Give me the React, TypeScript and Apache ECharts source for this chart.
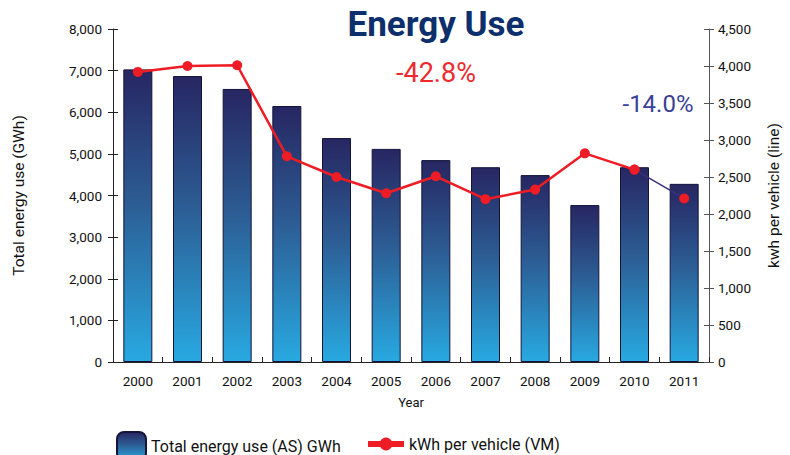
import React, { useEffect, useRef } from "react";
import * as echarts from "echarts";

const years = ["2000", "2001", "2002", "2003", "2004", "2005", "2006", "2007", "2008", "2009", "2010", "2011"];
const energyUse = [7030, 6870, 6560, 6150, 5380, 5120, 4850, 4680, 4490, 3770, 4680, 4280];
const kwhPerVehicle = [3920, 4000, 4010, 2780, 2500, 2280, 2510, 2200, 2330, 2820, 2600, 2210];
const leftTicks = { min: 0, max: 8000, interval: 1000 };
const rightTicks = { min: 0, max: 4500, interval: 500 };

const FONT = "Roboto";
const fmt = (v: number) => v.toLocaleString("en-US");

export default function App() {
  const ref = useRef<HTMLDivElement>(null);
  useEffect(() => {
    if (!ref.current) return;
    const chart = echarts.init(ref.current, null, { renderer: "svg" });
    const lastIdx = years.length - 1;
    const redData = kwhPerVehicle.map((v, i) => (i < lastIdx ? v : null));
    const navyData = kwhPerVehicle.map((v, i) => (i >= lastIdx - 1 ? v : null));
    const barGradient = new echarts.graphic.LinearGradient(0, 0, 0, 1, [
      { offset: 0, color: "#272662" },
      { offset: 0.45, color: "#2c5c93" },
      { offset: 1, color: "#28a9e1" },
    ]);
    const hiddenY = (pos: string, t: any, c: string) => ({
      type: "value",
      position: pos,
      min: t.min,
      max: t.max,
      interval: t.interval,
      axisLine: { show: true, lineStyle: { color: "rgba(0,0,0,0)" } },
      axisLabel: { show: false },
      splitLine: { show: false },
      axisTick: { show: true, inside: true, length: 5, lineStyle: { color: c } },
    });
    chart.setOption({
      animation: false,
      textStyle: { fontFamily: FONT },
      grid: { left: 113, right: 80, top: 29, bottom: 93 },
      graphic: [
        {
          type: "text",
          x: 436,
          y: 24,
          style: { text: "Energy Use", fill: "#0d2f6b", font: `bold 35px ${FONT}`, textAlign: "center", textVerticalAlign: "middle" },
        },
        {
          type: "text",
          x: 436,
          y: 73,
          style: { text: "-42.8%", fill: "#ee2a2e", font: `27px ${FONT}`, textAlign: "center", textVerticalAlign: "middle" },
        },
        {
          type: "text",
          x: 658,
          y: 104,
          style: { text: "-14.0%", fill: "#3a3f97", font: `24px ${FONT}`, textAlign: "center", textVerticalAlign: "middle" },
        },
      ],
      legend: [
        {
          data: ["Total energy use (AS) GWh"],
          left: 111,
          top: 426,
          itemWidth: 29,
          itemHeight: 28,
          itemGap: 6,
          textStyle: { fontSize: 16, color: "#111", fontFamily: FONT },
        },
        {
          data: ["kWh per vehicle (VM)"],
          left: 360,
          top: 431,
          itemWidth: 36,
          itemHeight: 16,
          itemGap: 6,
          lineStyle: { width: 6 },
          textStyle: { fontSize: 16, color: "#111", fontFamily: FONT },
        },
      ],
      xAxis: [
        {
          type: "category",
          data: years,
          name: "Year",
          nameLocation: "middle",
          nameGap: 34,
          nameTextStyle: { fontSize: 13, color: "#111" },
          axisLine: { lineStyle: { color: "#222" } },
          axisTick: { length: 5, lineStyle: { color: "#222" } },
          axisLabel: { fontSize: 13.5, color: "#111", margin: 12 },
        },
        {
          type: "category",
          data: years,
          position: "bottom",
          axisLine: { show: true, lineStyle: { color: "rgba(0,0,0,0)" } },
          axisLabel: { show: false },
          axisTick: { show: true, inside: true, length: 5, lineStyle: { color: "#222" } },
        },
      ],
      yAxis: [
        {
          type: "value",
          position: "left",
          min: leftTicks.min,
          max: leftTicks.max,
          interval: leftTicks.interval,
          name: "Total energy use (GWh)",
          nameLocation: "middle",
          nameGap: 86,
          nameTextStyle: { fontSize: 15.5, color: "#111" },
          axisLine: { show: true, lineStyle: { color: "#222" } },
          axisTick: { show: true, length: 5, lineStyle: { color: "#222" } },
          axisLabel: { fontSize: 13.5, color: "#111", margin: 11, formatter: fmt },
          splitLine: { show: false },
        },
        {
          type: "value",
          position: "right",
          min: rightTicks.min,
          max: rightTicks.max,
          interval: rightTicks.interval,
          name: "kwh per vehicle (line)",
          nameLocation: "middle",
          nameGap: 57,
          nameRotate: 90,
          nameTextStyle: { fontSize: 15.5, color: "#111" },
          axisLine: { show: true, lineStyle: { color: "#555" } },
          axisTick: { show: true, length: 5, lineStyle: { color: "#555" } },
          axisLabel: { fontSize: 13.5, color: "#111", margin: 9, formatter: fmt },
          splitLine: { show: false },
        },
        hiddenY("left", leftTicks, "#222"),
        hiddenY("right", rightTicks, "#555"),
      ],
      series: [
        {
          name: "Total energy use (AS) GWh",
          type: "bar",
          data: energyUse,
          barWidth: 29,
          itemStyle: { color: barGradient, borderColor: "#14143a", borderWidth: 1 },
        },
        {
          name: "kWh per vehicle (VM)",
          type: "line",
          yAxisIndex: 1,
          data: redData,
          symbol: "circle",
          symbolSize: 10,
          lineStyle: { color: "#ee1c25", width: 2.5 },
          itemStyle: { color: "#ee1c25" },
          z: 3,
        },
        {
          name: "segment",
          type: "line",
          yAxisIndex: 1,
          data: navyData,
          symbol: "circle",
          symbolSize: 10,
          lineStyle: { color: "#3a2f7a", width: 1.5 },
          itemStyle: { color: "#ee1c25" },
          z: 4,
        },
      ],
    });
    return () => chart.dispose();
  }, []);
  return <div ref={ref} style={{ width: 790, height: 455, position: "absolute", left: 0, top: 0 }} />;
}
